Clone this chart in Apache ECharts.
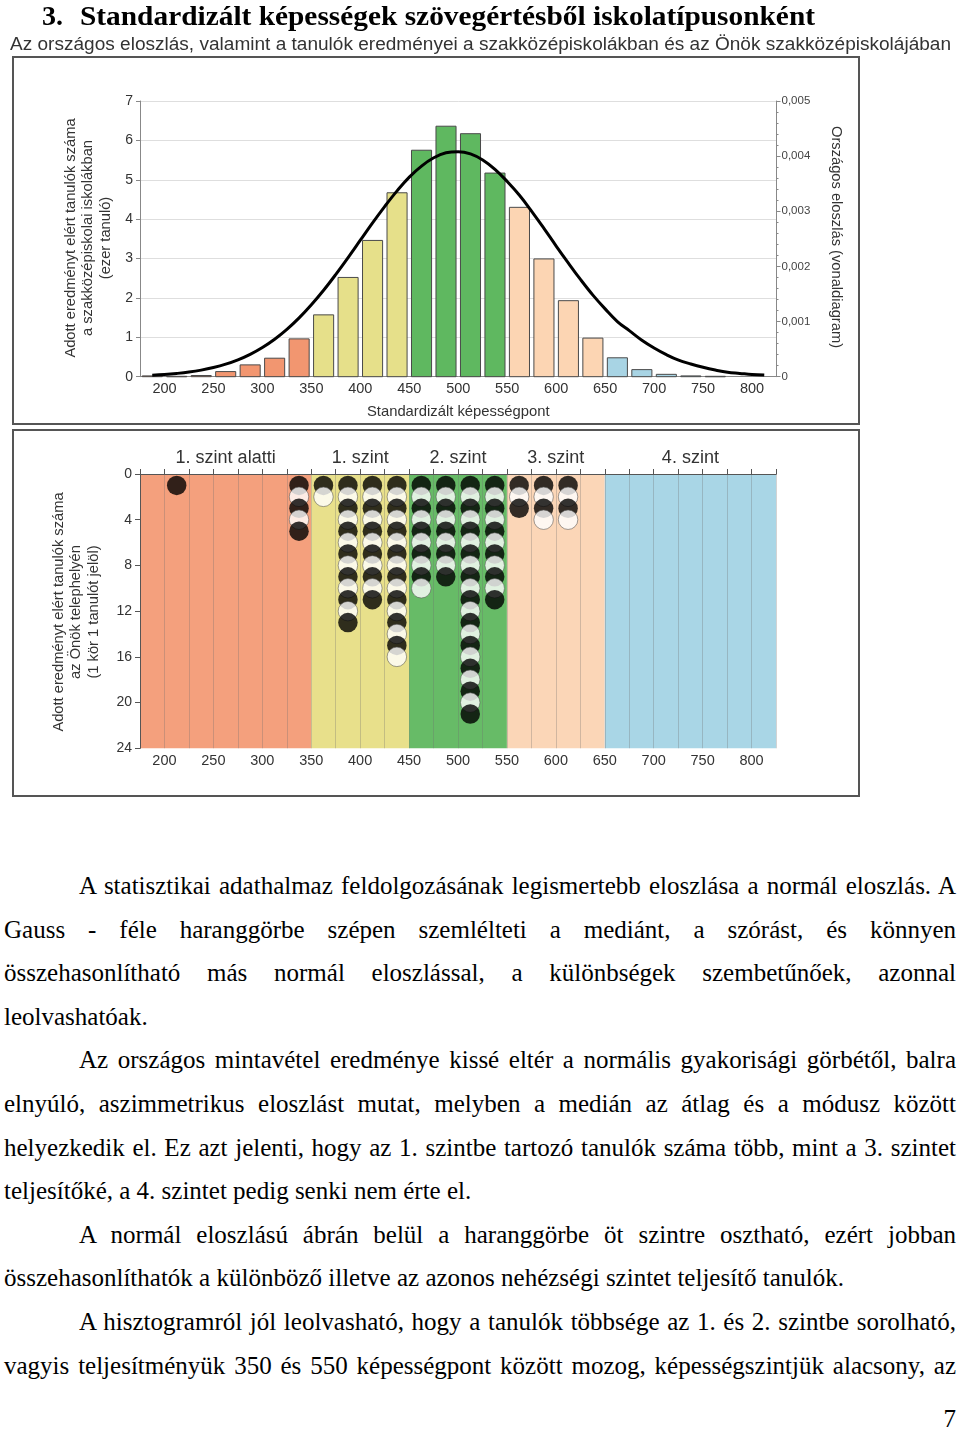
<!DOCTYPE html>
<html><head><meta charset="utf-8">
<script src="https://cdn.jsdelivr.net/npm/echarts@6/dist/echarts.min.js"></script>
<style>
html,body{margin:0;padding:0;background:#fff;}
body{width:960px;height:1432px;position:relative;overflow:hidden;}
#chart{position:absolute;left:0;top:0;width:960px;height:810px;z-index:0;}
.t{position:absolute;white-space:nowrap;transform-origin:0 0;z-index:2;}
#t1{left:42px;top:2px;font-family:'Liberation Serif';font-weight:bold;font-size:28px;line-height:28px;}
#t2{left:80px;top:2px;font-family:'Liberation Serif';font-weight:bold;font-size:28px;line-height:28px;}
#sub{left:10px;top:34px;font-family:'Liberation Sans';font-size:17.5px;line-height:20px;color:#333;}
#body{position:absolute;left:4px;top:864px;width:952px;font-family:'Liberation Serif';font-size:25px;line-height:43.6px;color:#000;z-index:2;}
.ln{white-space:nowrap;}
.ind{padding-left:75px;}
#pg{position:absolute;right:4px;top:1404px;font-family:'Liberation Serif';font-size:25px;line-height:30px;z-index:2;}
</style></head>
<body>
<div id="chart"></div>
<div class="t" id="t1">3.</div>
<div class="t" id="t2">Standardizált képességek szövegértésből iskolatípusonként</div>
<div class="t" id="sub">Az országos eloszlás, valamint a tanulók eredményei a szakközépiskolákban és az Önök szakközépiskolájában</div>
<div id="body">
<div class="ln j ind"><span>A statisztikai adathalmaz feldolgozásának legismertebb eloszlása a normál eloszlás. A</span></div>
<div class="ln j"><span>Gauss - féle haranggörbe szépen szemlélteti a mediánt, a szórást, és könnyen</span></div>
<div class="ln j"><span>összehasonlítható más normál eloszlással, a különbségek szembetűnőek, azonnal</span></div>
<div class="ln"><span>leolvashatóak.</span></div>
<div class="ln j ind"><span>Az országos mintavétel eredménye kissé eltér a normális gyakorisági görbétől, balra</span></div>
<div class="ln j"><span>elnyúló, aszimmetrikus eloszlást mutat, melyben a medián az átlag és a módusz között</span></div>
<div class="ln j"><span>helyezkedik el. Ez azt jelenti, hogy az 1. szintbe tartozó tanulók száma több, mint a 3. szintet</span></div>
<div class="ln"><span>teljesítőké, a 4. szintet pedig senki nem érte el.</span></div>
<div class="ln j ind"><span>A normál eloszlású ábrán belül a haranggörbe öt szintre osztható, ezért jobban</span></div>
<div class="ln"><span>összehasonlíthatók a különböző illetve az azonos nehézségi szintet teljesítő tanulók.</span></div>
<div class="ln j ind"><span>A hisztogramról jól leolvasható, hogy a tanulók többsége az 1. és 2. szintbe sorolható,</span></div>
<div class="ln j"><span>vagyis teljesítményük 350 és 550 képességpont között mozog, képességszintjük alacsony, az</span></div>
</div>
<div id="pg">7</div>
<script>
// ---- data ----
const binCenters = [187.5,212.5,237.5,262.5,287.5,312.5,337.5,362.5,387.5,412.5,437.5,462.5,487.5,512.5,537.5,562.5,587.5,612.5,637.5,662.5,687.5,712.5,737.5,762.5,787.5,812.5];
const studentsThousands = [0.02,0.01,0.03,0.13,0.30,0.47,0.96,1.57,2.52,3.46,4.67,5.75,6.36,6.17,5.17,4.30,2.99,1.93,0.98,0.48,0.18,0.06,0.02,0.01,0,0];
const curveX = [187.5,200,212.5,225,237.5,250,262.5,275,287.5,300,312.5,325,337.5,350,362.5,375,387.5,400,412.5,425,437.5,450,462.5,475,487.5,500,512.5,525,537.5,550,562.5,575,587.5,600,612.5,625,637.5,650,662.5,675,687.5,700,712.5,725,737.5,750,762.5,775,787.5,800,812.5];
const nationalDensity = [0.000027,0.000040,0.000059,0.000084,0.000119,0.000166,0.000227,0.000306,0.000406,0.000530,0.000680,0.000859,0.001067,0.001305,0.001568,0.001856,0.00216,0.002475,0.00279,0.00309,0.00337,0.00362,0.00382,0.00397,0.00406,0.00408,0.00404,0.00393,0.00376,0.00354,0.00329,0.00300,0.00269,0.00237,0.00206,0.00176,0.00148,0.00123,0.00100,0.00083,0.00066,0.00052,0.00040,0.00030,0.00023,0.00017,0.00012,0.00008,0.00006,0.00004,0.00003];
const levelNames = ['1. szint alatti','1. szint','2. szint','3. szint','4. szint'];
const levelBounds = [175,350,450,550,650,825];
const schoolBins = [212.5,337.5,362.5,387.5,412.5,437.5,462.5,487.5,512.5,537.5,562.5,587.5,612.5];
const schoolCounts = [1,5,2,13,11,16,10,9,21,11,3,4,4];
const xTickLabels = [200,250,300,350,400,450,500,550,600,650,700,750,800];

// ---- styles ----
const barColors = ['#f29670','#e6e08a','#5fb860','#fcd5b3','#a8d4e4'];
const bandColors = ['#f4a07d','#e8e08b','#67bb67','#fbd6b7','#a9d6e6'];
const FONT = 'Liberation Sans';

function levelOf(x){ for(let i=0;i<levelNames.length;i++){ if(x>=levelBounds[i] && x<levelBounds[i+1]) return i; } return levelNames.length-1; }
const xFmt = v => xTickLabels.includes(v) ? String(v) : '';

const barData = binCenters.map((x,i)=>[x, studentsThousands[i]]);
const curveData = curveX.map((x,i)=>[x, nationalDensity[i]]);
const bandData = levelNames.map((n,i)=>[levelBounds[i], levelBounds[i+1], i]);
const dotData = [];
schoolBins.forEach((x,i)=>{
  for(let k=1;k<=schoolCounts[i];k++){
    const black = k%2===1;
    dotData.push({value:[x,k], itemStyle:{color: black?'#000':'#fff', borderColor:'#555', borderWidth: black?0:0.7}});
  }
});

const chart = echarts.init(document.getElementById('chart'), null, {renderer:'canvas'});
chart.setOption({
  animation:false,
  textStyle:{fontFamily:FONT},
  grid:[
    {left:140, top:101, width:636.5, height:275.7},
    {left:140, top:474, width:636, height:274.3}
  ],
  xAxis:[
    {gridIndex:0, type:'value', min:175, max:825, interval:25,
     axisLine:{lineStyle:{color:'#888'}}, axisTick:{show:false}, splitLine:{show:false},
     axisLabel:{formatter:xFmt, fontSize:14.5, color:'#333', margin:5},
     name:'Standardizált képességpont', nameLocation:'middle', nameGap:28,
     nameTextStyle:{fontSize:14.8, color:'#333'}},
    {gridIndex:1, type:'value', min:175, max:825, interval:25, position:'bottom', z:3,
     axisLine:{lineStyle:{color:'#555'}}, axisTick:{show:false},
     splitLine:{show:true, lineStyle:{color:'rgba(110,110,110,0.3)', width:1}},
     axisLabel:{formatter:xFmt, fontSize:14.5, color:'#333', margin:5}},
    {gridIndex:1, type:'value', min:175, max:825, interval:25, position:'top', z:3,
     axisLine:{lineStyle:{color:'#555'}}, axisTick:{show:true, length:5, lineStyle:{color:'#555'}},
     axisLabel:{show:false}, splitLine:{show:false}}
  ],
  yAxis:[
    {gridIndex:0, type:'value', min:0, max:7, interval:1,
     axisLine:{show:true, lineStyle:{color:'#888'}}, axisTick:{show:true, length:4, lineStyle:{color:'#888'}},
     axisLabel:{fontSize:14, color:'#333', margin:7},
     splitLine:{show:true, lineStyle:{color:'#dedede'}}},
    {gridIndex:0, type:'value', position:'right', min:0, max:0.005, interval:0.001,
     axisLine:{show:true, lineStyle:{color:'#888'}}, axisTick:{show:true, length:4, lineStyle:{color:'#888'}},
     minorTick:{show:true, splitNumber:5, length:2, lineStyle:{color:'#888'}},
     axisLabel:{fontSize:11.5, color:'#444', margin:5, formatter:v => v===0 ? '0' : v.toFixed(3).replace('.',',')},
     splitLine:{show:false}},
    {gridIndex:1, type:'value', inverse:true, min:0, max:24, interval:4, z:3,
     axisLine:{show:true, lineStyle:{color:'#555'}}, axisTick:{show:true, length:5, lineStyle:{color:'#555'}},
     axisLabel:{fontSize:14, color:'#333', margin:8},
     splitLine:{show:false}}
  ],
  series:[
    {type:'custom', name:'bars', xAxisIndex:0, yAxisIndex:0, z:2, data:barData,
     encode:{x:0, y:1},
     renderItem:(params, api)=>{
       const x = api.value(0), v = api.value(1);
       if(!(v>0)) return null;
       const p0 = api.coord([x-12.5, 0]);
       const p1 = api.coord([x+12.5, v]);
       const w = p1[0]-p0[0];
       const gap = w*0.09;
       return {type:'rect', shape:{x:p0[0]+gap, y:p1[1], width:w-2*gap, height:Math.max(p0[1]-p1[1],0.5)},
               style:{fill:barColors[levelOf(x)], stroke:'#4a4a4a', lineWidth:1}};
     }},
    {type:'line', name:'Országos eloszlás', xAxisIndex:0, yAxisIndex:1, z:4, data:curveData,
     smooth:0.4, showSymbol:false, symbol:'none', lineStyle:{color:'#000', width:3}},
    {type:'custom', name:'bands', xAxisIndex:1, yAxisIndex:2, z:1, clip:false, data:bandData,
     encode:{x:[0,1]},
     renderItem:(params, api)=>{
       const i = api.value(2);
       const a = api.coord([api.value(0), 0]);
       const b = api.coord([api.value(1), 24]);
       return {type:'group', children:[
         {type:'rect', shape:{x:a[0], y:a[1], width:b[0]-a[0], height:b[1]-a[1]}, style:{fill:bandColors[i]}},
         {type:'text', x:(a[0]+b[0])/2, y:a[1]-7, style:{text:levelNames[i], align:'center', verticalAlign:'bottom', font:'18px "Liberation Sans"', fill:'#333'}}
       ]};
     }},
    {type:'scatter', name:'Önök telephelye', xAxisIndex:1, yAxisIndex:2, z:5, data:dotData,
     symbol:'circle', symbolSize:19.5}
  ],
  graphic:[
    {type:'rect', z:100, shape:{x:13, y:57, width:846, height:367}, style:{fill:'none', stroke:'#555', lineWidth:2}},
    {type:'rect', z:100, shape:{x:13, y:430, width:846, height:366}, style:{fill:'none', stroke:'#555', lineWidth:2}},
    {type:'text', z:100, x:88, y:238, rotation:Math.PI/2,
     style:{text:'Adott eredményt elért tanulók száma\na szakközépiskolai iskolákban\n(ezer tanuló)', align:'center', verticalAlign:'middle', lineHeight:17.5, font:'14.7px "Liberation Sans"', fill:'#333'}},
    {type:'text', z:100, x:76, y:612, rotation:Math.PI/2,
     style:{text:'Adott eredményt elért tanulók száma\naz Önök telephelyén\n(1 kör 1 tanulót jelöl)', align:'center', verticalAlign:'middle', lineHeight:17.5, font:'14.7px "Liberation Sans"', fill:'#333'}},
    {type:'text', z:100, x:836, y:237, rotation:-Math.PI/2,
     style:{text:'Országos eloszlás (vonaldiagram)', align:'center', verticalAlign:'middle', font:'14.7px "Liberation Sans"', fill:'#333'}}
  ]
});

// ---- text fitting ----
function fitWidth(id, target){
  const el = document.getElementById(id);
  const w = el.getBoundingClientRect().width;
  el.style.transform = 'scaleX(' + (target/w) + ')';
}
fitWidth('t2', 735);
fitWidth('sub', 941);
document.querySelectorAll('#body .j').forEach(div=>{
  const span = div.firstElementChild;
  const target = 952 - (div.classList.contains('ind') ? 75 : 0);
  const w = span.getBoundingClientRect().width;
  const n = (span.textContent.match(/ /g) || []).length;
  if(n>0) span.style.wordSpacing = ((target - w)/n) + 'px';
});
</script>
</body></html>
